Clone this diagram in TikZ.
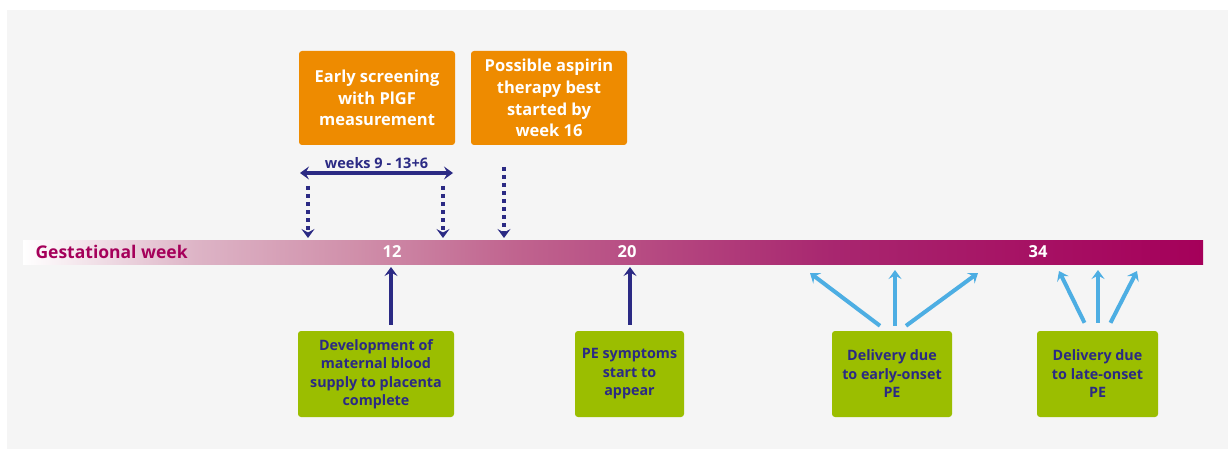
\documentclass[tikz,border=0pt]{standalone}
\usepackage{fontspec}
\setmainfont{Open Sans}
\usetikzlibrary{arrows.meta, positioning, calc}
\definecolor{panelgrey}{HTML}{F5F5F5}
\definecolor{inknavy}{HTML}{2B2A84}
\definecolor{inkorange}{HTML}{EE8B00}
\definecolor{inkgreen}{HTML}{9BBE00}
\definecolor{inksky}{HTML}{4DAEE3}
\definecolor{inkplum}{HTML}{A5005A}
\definecolor{barpale}{HTML}{DDB4C6}
\definecolor{barrose}{HTML}{D08FAA}
\definecolor{barmid}{HTML}{C0648F}
\definecolor{bardeep}{HTML}{A8266F}
\pgfdeclarehorizontalshading{weekbar}{100bp}{%
  color(0bp)=(white); color(25bp)=(white);
  color(32.3bp)=(barpale); color(39.1bp)=(barrose);
  color(45.8bp)=(barmid); color(59.4bp)=(bardeep);
  color(75bp)=(inkplum); color(100bp)=(inkplum)}
\newcommand{\stagebox}[5]{%
  \node[fill=inkorange, rounded corners=3pt, minimum width=#4pt,
        minimum height=94pt, align=center, text=white,
        font=\bfseries\fontsize{16.5}{21.7}\selectfont] (#1) at (#2,#3) {#5};}
\newcommand{\eventbox}[4]{%
  \node[fill=inkgreen, rounded corners=3pt, minimum width=#3pt,
        minimum height=86pt, align=center, text=inknavy,
        font=\bfseries\fontsize{14.3}{18.5}\selectfont] (#1) at (#2,374) {#4};}

\begin{document}
\begin{tikzpicture}[x=1pt, y=-1pt,
    navyup/.style={-{Stealth[length=9pt, width=13pt, inset=3.5pt]}, inknavy, line width=3.6pt},
    navydots/.style={-{Stealth[length=9pt, width=13pt, inset=3.5pt]}, inknavy, line width=3.6pt,
      dash pattern=on 4pt off 4pt},
    skyup/.style={-{Stealth[length=9pt, width=13pt, inset=3.5pt]}, inksky, line width=4pt}]
  \useasboundingbox[fill=white] (0,0) rectangle (1228,449);
  \fill[panelgrey] (7,10) rectangle (1228,449);

  % the week bar
  \shade[shading=weekbar] (23,240) rectangle (1203,264);
  \node[anchor=west, text=inkplum, font=\bfseries\fontsize{17.5}{20}\selectfont] (gest) at (32,252) {Gestational week};
  \node[text=white, font=\bfseries\fontsize{16.5}{20}\selectfont] (w12) at (392,252) {12};
  \node[text=white, font=\bfseries\fontsize{16.5}{20}\selectfont] (w20) at (627,252) {20};
  \node[text=white, font=\bfseries\fontsize{16.5}{20}\selectfont] (w34) at (1038,252) {34};

  % boxes above the bar
  \stagebox{screen}{377}{98}{156}{Early screening\\with PlGF\\measurement}
  \stagebox{aspirin}{549}{98}{156}{Possible aspirin\\therapy best\\started by\\week 16}

  % boxes below the bar
  \eventbox{blood}{376}{156}{Development of\\maternal blood\\supply to placenta\\complete}
  \eventbox{symptoms}{629.5}{109}{PE symptoms\\start to\\appear}
  \eventbox{earlype}{892}{120}{Delivery due\\to early-onset\\PE}
  \eventbox{latepe}{1097.5}{121}{Delivery due\\to late-onset\\PE}

  % screening window
  \coordinate (winL) at (300,173);
  \coordinate (winR) at (453,173);
  \draw[{Stealth[length=9pt, width=13pt, inset=3.5pt]}-{Stealth[length=9pt, width=13pt, inset=3.5pt]},
        inknavy, line width=3.4pt] (winL) -- (winR)
    node[midway, above=-1pt, font=\bfseries\fontsize{14.5}{16}\selectfont] (winlbl) {weeks 9 - 13+6};
  \coordinate (d1a) at (308,186); \coordinate (d1b) at (308,238);
  \coordinate (d2a) at (443,186); \coordinate (d2b) at (443,238);
  \coordinate (d3a) at (504,167); \coordinate (d3b) at (504,238);
  \draw[navydots] (d1a) -- (d1b);
  \draw[navydots] (d2a) -- (d2b);
  \draw[navydots] (d3a) -- (d3b);

  % arrows up to the bar
  \coordinate (t12) at (391,267);
  \coordinate (t20) at (630,267);
  \draw[navyup, shorten <=6pt] (blood.north -| t12) -- (t12);
  \draw[navyup, shorten <=6pt] (symptoms.north -| t20) -- (t20);

  \coordinate (e1) at (810,273); \coordinate (e2) at (895,270); \coordinate (e3) at (978,273);
  \draw[skyup] ($(earlype.north)+(-12,-5)$) -- (e1);
  \draw[skyup] ($(earlype.north)+(3,-5)$) -- (e2);
  \draw[skyup] ($(earlype.north)+(14,-5)$) -- (e3);
  \coordinate (l1) at (1059,271); \coordinate (l2) at (1098,270); \coordinate (l3) at (1137,271);
  \draw[skyup] ($(latepe.north)+(-13,-8)$) -- (l1);
  \draw[skyup] ($(latepe.north)+(0.5,-8)$) -- (l2);
  \draw[skyup] ($(latepe.north)+(13,-8)$) -- (l3);
\end{tikzpicture}
\end{document}
